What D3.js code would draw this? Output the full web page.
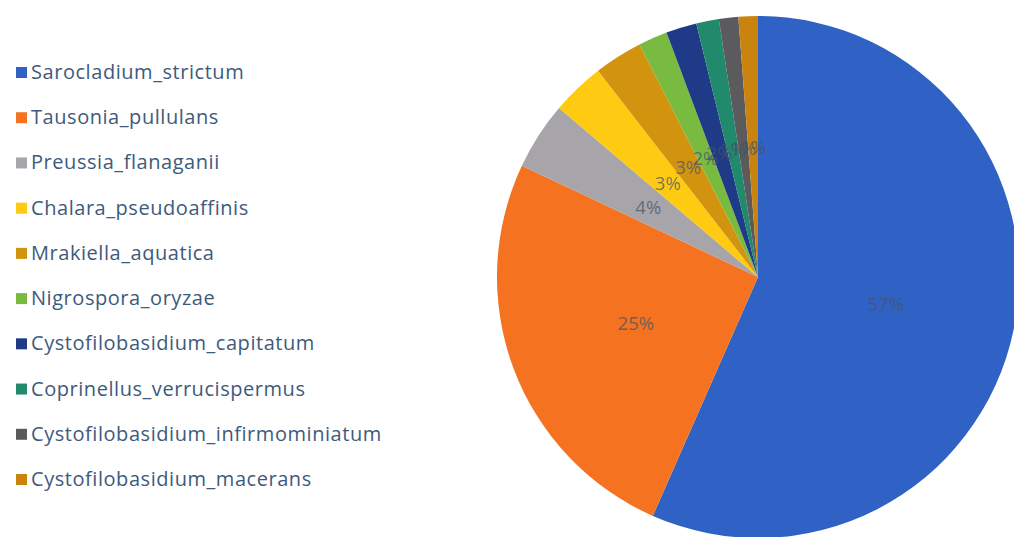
<!DOCTYPE html>
<html>
<head>
<meta charset="utf-8">
<script src="https://cdn.jsdelivr.net/npm/d3@7"></script>
<style>
  html, body { margin: 0; padding: 0; background: #ffffff; }
  svg { display: block; }
</style>
</head>
<body>
<svg id="chart" width="1014" height="537"></svg>
<script>
// Relative abundance of fungal taxa (percent of reads)
const taxa = [
  "Sarocladium_strictum",
  "Tausonia_pullulans",
  "Preussia_flanaganii",
  "Chalara_pseudoaffinis",
  "Mrakiella_aquatica",
  "Nigrospora_oryzae",
  "Cystofilobasidium_capitatum",
  "Coprinellus_verrucispermus",
  "Cystofilobasidium_infirmominiatum",
  "Cystofilobasidium_macerans"
];
const shares = [56.6, 25.4, 4.2, 3.3, 3.0, 1.8, 1.9, 1.4, 1.2, 1.2];
const colors = [
  "#2f62c4", "#f47220", "#a7a5a9", "#ffcb12", "#d2940f",
  "#79bb40", "#1f3a86", "#21896c", "#5b5a5c", "#c8840f"
];

const svg = d3.select("#chart");

// ---- pie ----
const cx = 758, cy = 277, R = 261;
const data = taxa.map((name, i) => ({ name, value: shares[i], color: colors[i] }));
const pie = d3.pie().sort(null).value(d => d.value);
const arcs = pie(data);
const arc = d3.arc().innerRadius(0).outerRadius(R);
const labelArc = d3.arc().innerRadius(R * 0.5).outerRadius(R * 0.5);
const total = d3.sum(shares);

const g = svg.append("g").attr("transform", `translate(${cx},${cy})`);
g.selectAll("path.slice")
  .data(arcs)
  .join("path")
  .attr("class", "slice")
  .attr("d", arc)
  .attr("fill", d => d.data.color);

g.selectAll("text.pct")
  .data(arcs)
  .join("text")
  .attr("class", "pct")
  .attr("transform", d => `translate(${labelArc.centroid(d)})`)
  .attr("text-anchor", "middle")
  .attr("dominant-baseline", "central")
  .attr("font-family", "'Open Sans', 'Noto Sans', sans-serif")
  .attr("font-size", 18.5)
  .attr("fill", "#44546a")
  .attr("fill-opacity", 0.72)
  .text(d => Math.round(d.data.value / total * 100) + "%");

// ---- legend ----
const legendY = d3.scalePoint()
  .domain(taxa)
  .range([79, 486]);

const leg = svg.append("g");
const rows = leg.selectAll("g.row")
  .data(data)
  .join("g")
  .attr("class", "row")
  .attr("transform", d => `translate(16,${legendY(d.name)})`);

rows.append("rect")
  .attr("x", 0)
  .attr("y", -12)
  .attr("width", 11)
  .attr("height", 11)
  .attr("fill", d => d.color);

rows.append("text")
  .attr("x", 15)
  .attr("y", 0)
  .attr("font-family", "'Open Sans', 'Noto Sans', sans-serif")
  .attr("font-size", 20)
  .attr("letter-spacing", 0.55)
  .attr("fill", "#3e5a7c")
  .text(d => d.name);
</script>
</body>
</html>
